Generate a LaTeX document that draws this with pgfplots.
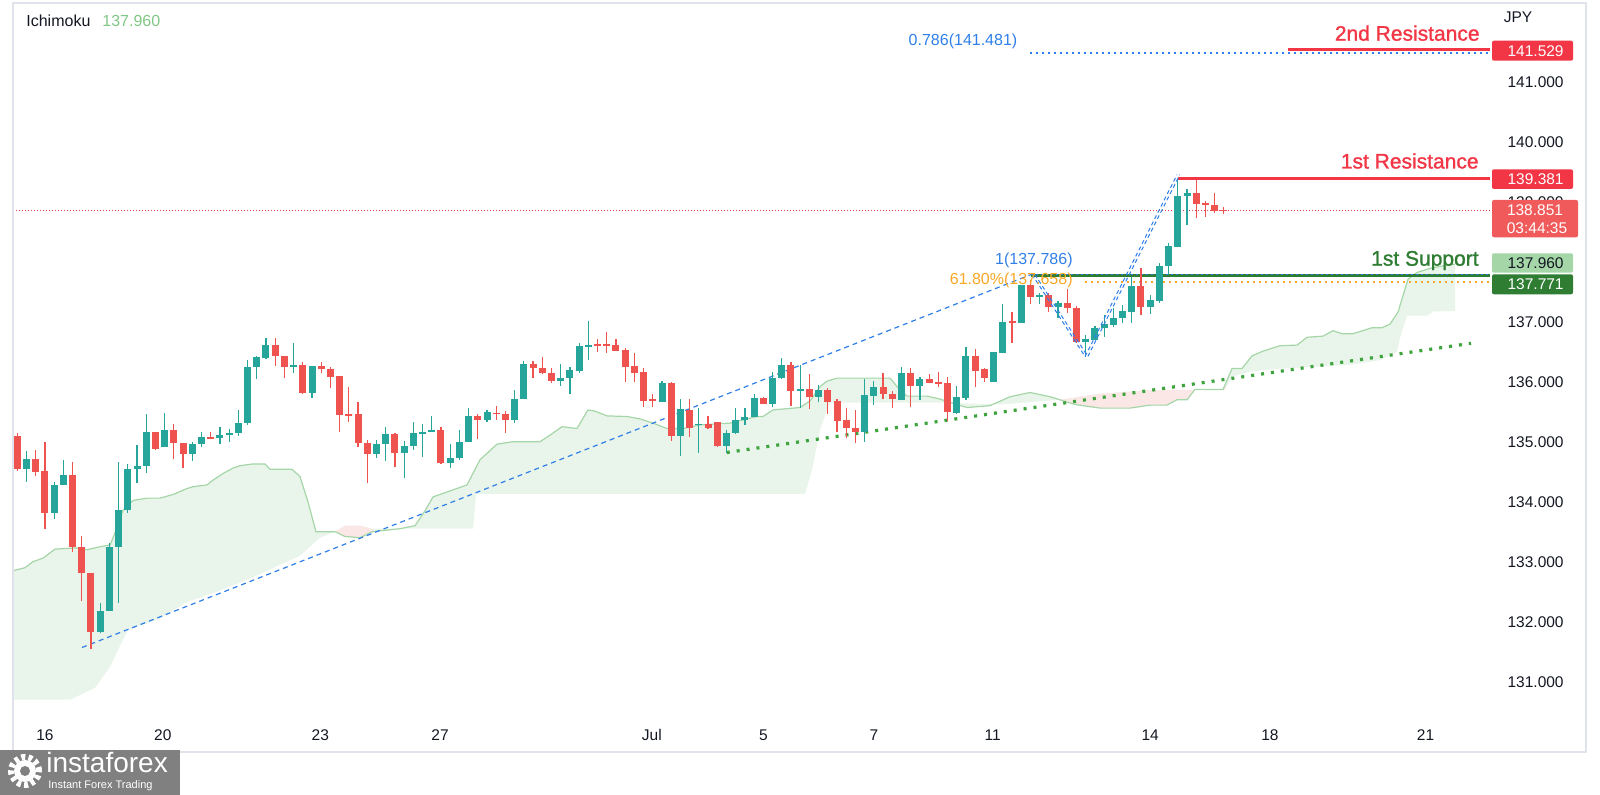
\documentclass[border=0pt]{standalone}
\usepackage{fontspec}
\setmainfont{Liberation Sans}
\newfontfamily\semibold[FakeBold=1.2]{Liberation Sans}
\usepackage{pgfplots}
\pgfplotsset{compat=1.18}
\usepackage{pgfplotstable}
\usepgfplotslibrary{fillbetween}
\definecolor{tvgreen}{HTML}{26A69A}
\definecolor{tvred}{HTML}{EF5350}
\definecolor{resred}{HTML}{F23645}
\definecolor{cloudfill}{HTML}{E9F4EA}
\definecolor{cloudline}{HTML}{A5D6A7}
\definecolor{cloudpink}{HTML}{FBE7E6}
\definecolor{fibblue}{HTML}{2F7FE8}
\definecolor{fiborange}{HTML}{F9A825}
\definecolor{supgreen}{HTML}{2E7D32}
\definecolor{dotgreen}{HTML}{3DA33D}
\definecolor{tvtext}{HTML}{131722}
\definecolor{ichigreen}{HTML}{81C784}
\definecolor{framecol}{HTML}{E0E3EB}
\definecolor{lastred}{HTML}{F05A5A}
\definecolor{logogray}{HTML}{808080}
\newcommand{\tickfont}{\fontsize{7.75}{9}\selectfont}
\newcommand{\bigfont}{\semibold\fontsize{10.5}{12}\selectfont}

\pgfplotstableread{
i o h l c
2 134.545 134.845 134.334 134.72
5 133.82 134.33 133.72 134.28
6 134.28 134.695 134.28 134.445
10 131.83 132.32 131.81 132.18
11 132.18 133.32 132.18 133.24
12 133.24 134.67 132.31 133.86
13 133.86 134.63 133.82 134.545
14 134.545 134.945 134.31 134.595
15 134.595 135.456 134.473 135.156
17 134.917 135.473 134.917 135.195
20 134.79 135.0 134.684 134.956
21 134.956 135.156 134.906 135.084
23 135.067 135.24 134.956 135.11
24 135.117 135.21 134.99 135.15
25 135.15 135.53 135.1 135.32
26 135.306 136.36 135.28 136.25
27 136.24 136.428 136.04 136.406
28 136.39 136.723 136.373 136.612
31 136.24 136.65 136.14 136.278
33 135.817 136.262 135.723 136.262
40 134.79 135.03 134.723 134.956
41 134.956 135.24 134.684 135.128
43 134.817 135.017 134.39 134.934
44 134.934 135.323 134.862 135.14
45 135.14 135.295 134.74 135.167
46 135.167 135.428 135.167 135.195
48 134.64 134.956 134.556 134.723
49 134.723 135.195 134.695 135.0
50 135.0 135.567 134.99 135.434
52 135.362 135.528 135.334 135.49
55 135.362 135.862 135.317 135.706
56 135.706 136.345 135.706 136.295
60 136.012 136.295 135.928 136.067
61 136.056 136.25 135.79 136.195
62 136.184 136.65 136.15 136.595
63 136.595 137.017 136.362 136.612
71 135.667 136.012 135.667 135.973
73 135.1 135.712 134.767 135.54
75 135.284 135.567 134.817 135.295
78 134.928 135.195 134.806 135.139
79 135.139 135.556 135.128 135.362
80 135.362 135.556 135.278 135.417
81 135.417 135.795 135.417 135.723
83 135.623 136.167 135.584 136.056
84 136.056 136.389 136.039 136.278
86 135.856 136.278 135.567 135.873
88 135.75 135.945 135.656 135.862
93 135.167 136.039 135.0 135.778
94 135.767 136.012 135.612 135.917
97 135.695 136.25 135.695 136.15
99 135.934 136.084 135.695 136.039
103 135.484 135.928 135.462 135.739
104 135.723 136.573 135.695 136.434
107 135.99 136.49 135.99 136.49
108 136.473 137.295 136.473 137.0
110 136.984 137.62 136.984 137.62
112 137.417 137.484 137.295 137.445
114 137.24 137.35 137.056 137.306
117 136.667 136.778 136.417 136.706
118 136.695 136.934 136.695 136.89
119 136.89 137.112 136.75 136.956
120 136.945 137.223 136.917 137.056
121 137.056 137.278 136.973 137.178
122 137.167 137.74 136.984 137.595
124 137.24 137.445 137.128 137.362
125 137.35 137.984 137.317 137.928
126 137.928 138.306 137.778 138.262
127 138.25 139.381 138.25 139.095
128 139.095 139.206 138.612 139.139
}\greencandles

\pgfplotstableread{
i o h l c
1 135.10 135.14 134.52 134.545
3 134.72 134.86 134.43 134.50
4 134.51 134.99 133.545 133.82
7 134.445 134.67 133.16 133.24
8 133.24 133.43 132.35 132.82
9 132.82 132.82 131.54 131.83
16 135.156 135.16 134.87 134.873
18 135.195 135.295 134.706 134.984
19 134.984 134.984 134.56 134.79
22 135.084 135.156 135.04 135.056
29 136.612 136.723 136.267 136.434
30 136.434 136.434 136.067 136.24
32 136.278 136.334 135.79 135.817
34 136.262 136.334 136.14 136.206
35 136.206 136.25 135.9 136.084
36 136.095 136.095 135.156 135.445
37 135.45 135.906 135.334 135.44
38 135.456 135.656 134.906 134.984
39 134.984 135.03 134.306 134.79
42 135.128 135.15 134.573 134.817
47 135.195 135.24 134.628 134.64
51 135.434 135.462 135.045 135.362
53 135.484 135.595 135.362 135.462
54 135.462 135.517 135.14 135.362
57 136.295 136.345 136.067 136.223
58 136.223 136.406 136.128 136.14
59 136.14 136.234 135.973 136.012
64 136.623 136.706 136.5 136.606
65 136.623 136.823 136.484 136.606
66 136.612 136.706 136.518 136.518
67 136.528 136.556 136.0 136.25
68 136.262 136.473 135.99 136.15
69 136.167 136.223 135.584 135.684
70 135.706 135.79 135.573 135.684
72 135.973 136.0 135.017 135.1
74 135.528 135.706 135.073 135.223
76 135.295 135.428 135.206 135.223
77 135.323 135.334 134.917 134.928
82 135.723 135.74 135.623 135.623
85 136.278 136.334 135.595 135.85
87 135.873 136.128 135.54 135.75
89 135.862 135.9 135.462 135.667
90 135.684 135.706 135.156 135.35
91 135.362 135.556 135.056 135.223
92 135.223 135.528 134.984 135.167
95 135.917 136.15 135.706 135.789
96 135.795 135.85 135.567 135.706
98 136.15 136.234 135.584 135.928
100 136.039 136.128 135.972 135.972
101 135.995 136.167 135.917 135.978
102 135.973 136.084 135.35 135.49
105 136.434 136.54 135.906 136.184
106 136.206 136.223 136.0 136.056
109 137.0 137.167 136.65 136.99
111 137.62 137.69 137.30 137.417
113 137.445 137.484 137.167 137.24
115 137.306 137.539 137.14 137.223
116 137.234 137.262 136.65 136.667
123 137.595 137.89 137.112 137.24
129 139.139 139.362 138.723 138.956
130 138.984 139.017 138.75 138.956
131 138.945 139.139 138.817 138.85
132 138.862 138.917 138.795 138.851
}\redcandles

\pgfplotstableread{
i p
0.53 132.85
1.84 132.90
2.70 133.00
3.79 133.06
5.09 133.21
7.48 133.23
8.57 133.20
9.98 133.25
11.07 133.28
11.61 133.48
12.48 133.86
13.56 134.02
15.08 134.06
16.49 134.06
17.91 134.12
19.43 134.22
20.08 134.25
21.60 134.28
22.25 134.36
23.33 134.47
24.42 134.56
25.18 134.60
26.59 134.63
27.89 134.63
28.44 134.54
30.83 134.54
31.69 134.42
32.56 134.00
33.43 133.50
35.50 133.50
36.58 133.42
38.21 133.40
39.51 133.50
42.55 133.55
44.18 133.60
45.27 133.85
46.14 134.08
49.83 134.28
51.24 134.70
53.09 134.96
54.82 135.00
57.75 135.00
58.84 135.11
60.14 135.25
61.77 135.22
62.96 135.53
63.72 135.51
65.03 135.43
67.20 135.42
68.61 135.38
70.02 135.31
71.54 135.22
73.28 135.22
75.13 135.28
78.38 135.31
81.31 135.42
81.96 135.42
83.05 135.53
85.98 135.57
87.07 135.68
88.16 135.92
88.92 136.01
90.00 136.06
95.75 136.06
96.52 135.92
97.60 135.76
99.78 135.76
101.19 135.71
102.60 135.64
104.12 135.57
106.61 135.60
108.79 135.75
110.96 135.82
113.13 135.75
115.84 135.62
118.56 135.56
121.82 135.56
123.99 135.61
125.83 135.61
126.92 135.70
128.00 135.70
128.87 135.87
131.91 135.87
132.89 136.22
133.97 136.22
135.06 136.43
136.25 136.51
138.10 136.60
139.95 136.61
141.03 136.74
142.77 136.76
143.86 136.85
144.83 136.80
146.03 136.80
148.09 136.90
149.17 136.90
150.04 136.96
150.91 137.16
152.00 137.71
152.97 137.82
154.38 137.89
155.80 137.93
157.10 137.96
}\spanA

\pgfplotstableread{
i p
0.53 130.70
6.72 130.70
9.44 130.90
11.07 131.25
12.15 131.60
13.02 131.86
14.65 131.95
16.49 132.05
19.43 132.33
22.68 132.50
26.27 132.72
31.69 133.10
33.87 133.40
35.50 133.50
36.58 133.60
38.21 133.60
39.51 133.55
50.48 133.55
50.81 134.13
86.53 134.13
87.29 134.53
88.16 135.20
88.92 135.53
89.24 135.65
101.19 135.65
107.70 135.62
114.21 135.70
118.56 135.80
123.99 135.86
132.13 135.87
132.89 136.08
134.85 136.17
138.43 136.22
142.12 136.25
145.70 136.28
148.96 136.36
150.81 136.50
151.24 136.80
151.90 137.10
154.07 137.10
154.72 137.17
157.10 137.18
}\spanB

\begin{document}
\begin{tikzpicture}
\path (0,0) rectangle (800pt,397.5pt);
\begin{axis}[
  at={(6.5pt,37.5pt)}, anchor=south west,
  scale only axis, width=738.5pt, height=358.5pt,
  xmin=0.533, xmax=160.9, ymin=130.362, ymax=142.312,
  clip=false,
  axis line style={draw=none}, tick style={draw=none},
  ytick={131,132,133,134,135,136,137,138,139,140,141},
  yticklabel pos=right,
  scaled y ticks=false,
  yticklabel={\pgfmathprintnumber[fixed,fixed zerofill,precision=3,1000 sep={},assume math mode=true]{\tick}},
  y tick label style={anchor=east, inner sep=0pt, xshift=37pt, font=\tickfont, text=tvtext},
  xtick={4,16.8,33.9,46.9,69.9,82,94,106.9,124,137,153.9},
  xticklabels={16,20,23,27,Jul,5,7,11,14,18,21},
  x tick label style={anchor=center, inner sep=0pt, yshift=-7.5pt, font=\tickfont, text=tvtext},
]
% Ichimoku cloud
\addplot[draw=none, name path=A, forget plot] table[x=i,y=p]{\spanA};
\addplot[draw=none, name path=B, forget plot] table[x=i,y=p]{\spanB};
\addplot[fill=cloudfill, draw=none, forget plot] fill between[of=A and B];
\addplot[fill=cloudpink, draw=none, forget plot] fill between[of=A and B, soft clip={domain=35.5:39.6}];
\addplot[fill=cloudpink, draw=none, forget plot] fill between[of=A and B, soft clip={domain=114.3:132.2}];
\addplot[draw=cloudline, line width=0.6pt, forget plot] table[x=i,y=p]{\spanA};

% current price line
\addplot[draw=resred, line width=0.5pt, dash pattern=on 0.5pt off 1pt, forget plot] coordinates {(0.533,138.851) (160.9,138.851)};
% fib trend line
\addplot[draw=fibblue, line width=0.6pt, dash pattern=on 2.5pt off 2pt, forget plot] coordinates {(8.02,131.57) (111.07,137.786)};
% levels
\addplot[draw=supgreen, line width=1.5pt, forget plot] coordinates {(111.07,137.771) (160.9,137.771)};
\addplot[draw=fibblue, line width=0.9pt, dash pattern=on 0.9pt off 1.6pt, forget plot] coordinates {(111.07,137.786) (160.9,137.786)};
\addplot[draw=fiborange, line width=1pt, dash pattern=on 1pt off 2pt, forget plot] coordinates {(116.93,137.658) (160.9,137.658)};
\addplot[draw=fibblue, line width=1pt, dash pattern=on 1pt off 2pt, forget plot] coordinates {(110.96,141.481) (160.9,141.481)};
\addplot[draw=resred, line width=1.5pt, forget plot] coordinates {(138.97,141.529) (160.9,141.529)};
\addplot[draw=resred, line width=1.5pt, forget plot] coordinates {(127.03,139.381) (160.9,139.381)};
% support trend line
\addplot[draw=dotgreen, line width=1.6pt, dash pattern=on 1.5pt off 3.5pt, forget plot] coordinates {(78.03,134.82) (158.84,136.64)};

% candles: wicks
\addplot[draw=none, mark=none, forget plot, error bars/.cd, y dir=plus, y explicit, error mark=none,
  error bar style={line width=0.6pt, draw=tvgreen, solid}]
  table[x=i, y=l, y error expr=\thisrow{h}-\thisrow{l}]{\greencandles};
\addplot[draw=none, mark=none, forget plot, error bars/.cd, y dir=plus, y explicit, error mark=none,
  error bar style={line width=0.6pt, draw=tvred, solid}]
  table[x=i, y=l, y error expr=\thisrow{h}-\thisrow{l}]{\redcandles};
% candles: bodies
\addplot[draw=none, mark=none, forget plot, error bars/.cd, y dir=both, y explicit, error mark=none,
  error bar style={line width=3.5pt, draw=tvgreen, solid}]
  table[x=i, y expr=(\thisrow{o}+\thisrow{c})/2, y error expr={max(abs(\thisrow{c}-\thisrow{o})/2,0.012)}]{\greencandles};
\addplot[draw=none, mark=none, forget plot, error bars/.cd, y dir=both, y explicit, error mark=none,
  error bar style={line width=3.5pt, draw=tvred, solid}]
  table[x=i, y expr=(\thisrow{o}+\thisrow{c})/2, y error expr={max(abs(\thisrow{c}-\thisrow{o})/2,0.012)}]{\redcandles};

% zigzag (double dashed)
\addplot[draw=fibblue, line width=0.5pt, dash pattern=on 2pt off 1.5pt, forget plot] coordinates {(111.17,137.79) (116.93,136.42) (126.92,139.45)};
\addplot[draw=fibblue, line width=0.5pt, dash pattern=on 2pt off 1.5pt, forget plot] coordinates {(111.47,137.79) (117.23,136.42) (127.22,139.45)};
\end{axis}

\begin{scope}[x=0.5pt, y=-0.5pt, shift={(0pt,397.5pt)}]
% frame
\draw[framecol, line width=1pt] (13,3) rectangle (1586,752);
% legend
\node[anchor=west, inner sep=0pt, font=\fontsize{8}{9.6}\selectfont, text=tvtext] at (26,21) {Ichimoku};
\node[anchor=west, inner sep=0pt, font=\fontsize{8}{9.6}\selectfont, text=ichigreen] at (102,21) {137.960};
\node[inner sep=0pt, font=\tickfont, text=tvtext] at (1518,17.3) {JPY};
% annotations
\node[anchor=base east, inner sep=0pt, font=\bigfont, text=resred] at (1480,40.7) {2nd Resistance};
\node[anchor=base east, inner sep=0pt, font=\bigfont, text=resred] at (1479,168.5) {1st Resistance};
\node[anchor=base east, inner sep=0pt, font=\bigfont, text=supgreen] at (1479,265.7) {1st Support};
\node[inner sep=0pt, font=\fontsize{8}{9.6}\selectfont, text=fibblue] at (963,41.7) {0.786(141.481)};
\node[anchor=east, inner sep=0pt, font=\fontsize{8}{9.6}\selectfont, text=fibblue] at (1073,260) {1(137.786)};
\node[anchor=east, inner sep=0pt, font=\fontsize{8}{9.6}\selectfont, text=fiborange] at (1073,280.7) {61.80\%(137.658)};
% price labels
\fill[resred, rounded corners=1pt] (1492,40.7) rectangle (1573,60.7);
\node[anchor=east, inner sep=0pt, font=\tickfont, text=white] at (1564,50.7) {141.529};
\fill[resred, rounded corners=1pt] (1492,169.3) rectangle (1573,189);
\node[anchor=east, inner sep=0pt, font=\tickfont, text=white] at (1564,179.2) {139.381};
\fill[lastred, rounded corners=1pt] (1492,200) rectangle (1578,237.3);
\node[inner sep=0pt, font=\tickfont, text=white] at (1535,210) {138.851};
\node[inner sep=0pt, font=\tickfont, text=white] at (1537,228) {03:44:35};
\fill[cloudline, rounded corners=1pt] (1492,253.3) rectangle (1573,272.7);
\node[anchor=east, inner sep=0pt, font=\tickfont, text=tvtext] at (1564,263) {137.960};
\fill[supgreen, rounded corners=1pt] (1492,274.3) rectangle (1573,294.3);
\node[anchor=east, inner sep=0pt, font=\tickfont, text=white] at (1564,284.3) {137.771};
% logo
\fill[logogray] (0,750) rectangle (180,795);
\draw[white, line width=3pt, dash pattern=on 2pt off 1.6pt] (25,771) circle[radius=7pt];
\fill[white] (25,771) circle[radius=5.5pt];
\fill[logogray] (25,771) circle[radius=2.5pt];
\node[anchor=west, inner sep=0pt, font=\fontsize{14}{14}\selectfont, text=white] at (46,763) {instaforex};
\node[anchor=west, inner sep=0pt, font=\fontsize{5.5}{6}\selectfont, text=white] at (48,786) {Instant Forex Trading};
\end{scope}
\end{tikzpicture}
\end{document}
